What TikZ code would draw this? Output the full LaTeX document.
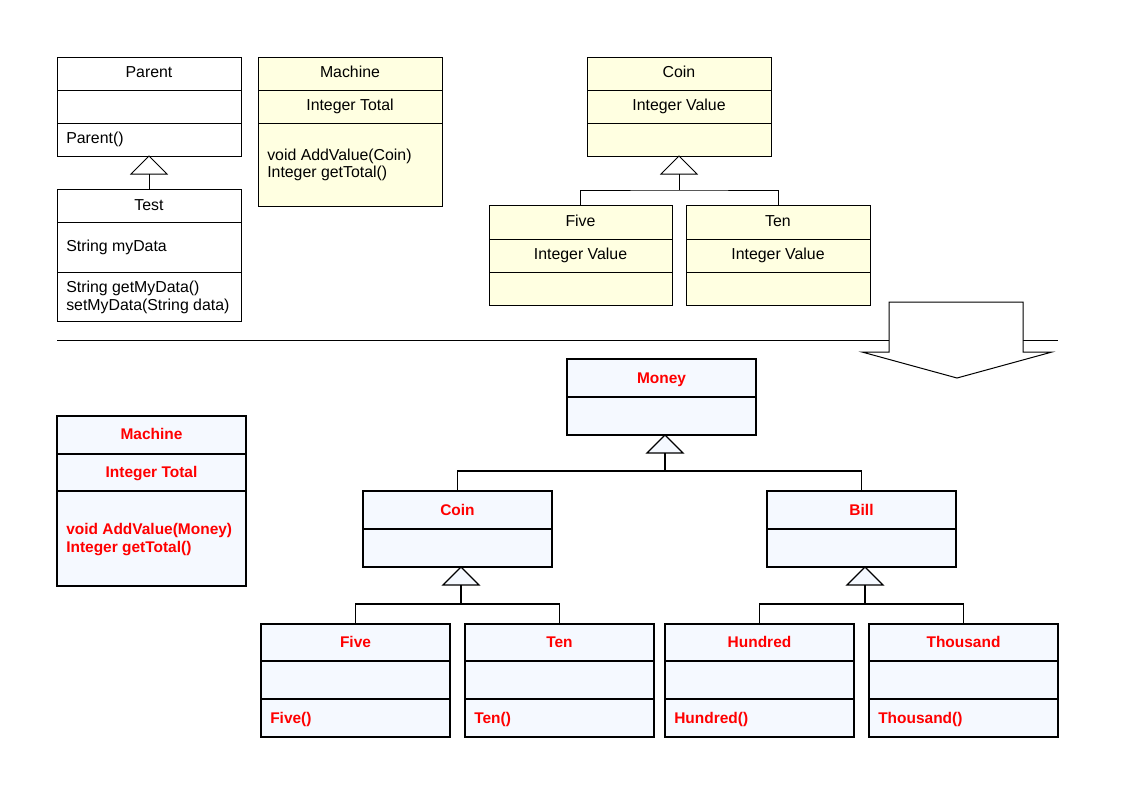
\documentclass[tikz,border=0pt]{standalone}
\usepackage{fontspec}
\setmainfont{Liberation Sans}
\usetikzlibrary{calc}
\definecolor{umlyellow}{RGB}{255,255,225}
\definecolor{umlblue}{RGB}{245,249,255}
\definecolor{umlred}{RGB}{255,0,0}
\newcommand{\umlbox}[6]{\node[#1, minimum width=#5*0.75pt, minimum height=#6*0.75pt] (#2) at (#3,#4) {};}
\newcommand{\umldiv}[3]{\draw[#3] (#1.west |- 0,#2) -- (#1.east |- 0,#2);}
\newcommand{\gentri}[4]{%
  \path (#1.south) ++(#3,0) coordinate (#4apex) ++(0,18) coordinate (#4);
  \draw[#2] (#4apex) -- ++(-18,18) -- ++(36,0) -- cycle;}
\begin{document}
\begin{tikzpicture}[x=0.75pt,y=-0.75pt,
  box/.style={draw=black, line width=0.75pt, inner sep=0pt, outer sep=0pt, anchor=north west},
  wbox/.style={box, fill=white},
  ybox/.style={box, fill=umlyellow},
  bbox/.style={box, fill=umlblue, line width=0.95pt},
  thin/.style={line width=0.75pt},
  thick/.style={line width=0.95pt},
  txt/.style={inner sep=0pt, font=\fontsize{11.9}{13}\selectfont, anchor=mid, yshift=-1.5pt},
  ltxt/.style={txt, anchor=mid west},
  rtxt/.style={txt, text=umlred, font=\fontsize{11.6}{13}\selectfont\bfseries},
  lrtxt/.style={rtxt, anchor=mid west},
  wtri/.style={draw, line width=0.75pt, fill=white},
  btri/.style={draw, line width=0.95pt, fill=umlblue, line join=miter},
]
\useasboundingbox (0,0) rectangle (1123,794);

% ---------- upper part ----------
\umlbox{wbox}{parent}{57}{57}{184}{99}
\umldiv{parent}{90}{thin}
\umldiv{parent}{123}{thin}
\node[txt] (parentT) at (149,72) {Parent};
\node[ltxt] (parentM) at (66,138) {Parent()};

\umlbox{wbox}{test}{57}{189}{184}{132}
\umldiv{test}{222}{thin}
\umldiv{test}{272}{thin}
\node[txt] (testT) at (149,205) {Test};
\node[ltxt] (testA) at (66,246) {String myData};
\node[ltxt] (testM1) at (66,287) {String getMyData()};
\node[ltxt] (testM2) at (66,305) {setMyData(String data)};

\gentri{parent}{wtri}{0}{pbase}
\draw[thin] (pbase) -- (test.north);

\umlbox{ybox}{machine}{258}{57}{184}{149}
\umldiv{machine}{90}{thin}
\umldiv{machine}{123}{thin}
\node[txt] (machineT) at (350,72) {Machine};
\node[txt] (machineA) at (350,105) {Integer Total};
\node[ltxt] (machineM1) at (267,155) {void AddValue(Coin)};
\node[ltxt] (machineM2) at (267,172) {Integer getTotal()};

\umlbox{ybox}{coin}{587}{57}{184}{99}
\umldiv{coin}{90}{thin}
\umldiv{coin}{123}{thin}
\node[txt] (coinT) at (679,72) {Coin};
\node[txt] (coinA) at (679,105) {Integer Value};

\umlbox{ybox}{five}{489}{205}{183}{100}
\umldiv{five}{239}{thin}
\umldiv{five}{272}{thin}
\node[txt] (fiveT) at (580.5,221) {Five};
\node[txt] (fiveA) at (580.5,254) {Integer Value};

\umlbox{ybox}{ten}{686}{205}{184}{100}
\umldiv{ten}{239}{thin}
\umldiv{ten}{272}{thin}
\node[txt] (tenT) at (778,221) {Ten};
\node[txt] (tenA) at (778,254) {Integer Value};

\gentri{coin}{wtri}{0}{cbase}
\draw[thin] (cbase) -- ++(0,16) coordinate (cjoin);
\draw[thin] (five.north) |- (cjoin) -| (ten.north);

% ---------- separator and arrow ----------
\coordinate (sepL) at (57,340);
\coordinate (sepR) at (1058,340);
\draw[thin] (sepL) -- (sepR);
\draw[thin, fill=white] (889,352) -- (889,302) -- (1023,302) -- (1023,352)
  -- (1052,352) -- (957,378) -- (862,352) -- cycle;

% ---------- lower part ----------
\umlbox{bbox}{money}{567}{359}{189}{76}
\umldiv{money}{397}{thick}
\node[rtxt] (moneyT) at (661.5,378) {Money};

\umlbox{bbox}{machine2}{57}{416}{189}{170}
\umldiv{machine2}{454}{thick}
\umldiv{machine2}{491}{thick}
\node[rtxt] (machine2T) at (151.5,434) {Machine};
\node[rtxt] (machine2A) at (151.5,472) {Integer Total};
\node[lrtxt] (machine2M1) at (66,529) {void AddValue(Money)};
\node[lrtxt] (machine2M2) at (66,547) {Integer getTotal()};

\umlbox{bbox}{coin2}{363}{491}{189}{76}
\umldiv{coin2}{529}{thick}
\node[rtxt] (coin2T) at (457.5,510) {Coin};

\umlbox{bbox}{bill}{767}{491}{189}{76}
\umldiv{bill}{529}{thick}
\node[rtxt] (billT) at (861.5,510) {Bill};

\gentri{money}{btri}{3.5}{mbase}
\draw[thick] (mbase) -- ++(0,18) coordinate (mjoin);
\draw[thick] (coin2.north) |- (mjoin) -| (bill.north);

\umlbox{bbox}{five2}{261}{624}{189}{113}
\umldiv{five2}{661}{thick}
\umldiv{five2}{699}{thick}
\node[rtxt] (five2T) at (355.5,642) {Five};
\node[lrtxt] (five2M) at (270,718) {Five()};

\umlbox{bbox}{ten2}{465}{624}{189}{113}
\umldiv{ten2}{661}{thick}
\umldiv{ten2}{699}{thick}
\node[rtxt] (ten2T) at (559.5,642) {Ten};
\node[lrtxt] (ten2M) at (474,718) {Ten()};

\umlbox{bbox}{hundred}{665}{624}{189}{113}
\umldiv{hundred}{661}{thick}
\umldiv{hundred}{699}{thick}
\node[rtxt] (hundredT) at (759.5,642) {Hundred};
\node[lrtxt] (hundredM) at (674,718) {Hundred()};

\umlbox{bbox}{thousand}{869}{624}{189}{113}
\umldiv{thousand}{661}{thick}
\umldiv{thousand}{699}{thick}
\node[rtxt] (thousandT) at (963.5,642) {Thousand};
\node[lrtxt] (thousandM) at (878,718) {Thousand()};

\gentri{coin2}{btri}{3.5}{c2base}
\draw[thick] (c2base) -- ++(0,19) coordinate (c2join);
\draw[thick] (five2.north) |- (c2join) -| (ten2.north);

\gentri{bill}{btri}{3.5}{bbase}
\draw[thick] (bbase) -- ++(0,19) coordinate (bjoin);
\draw[thick] (hundred.north) |- (bjoin) -| (thousand.north);
\end{tikzpicture}
\end{document}
